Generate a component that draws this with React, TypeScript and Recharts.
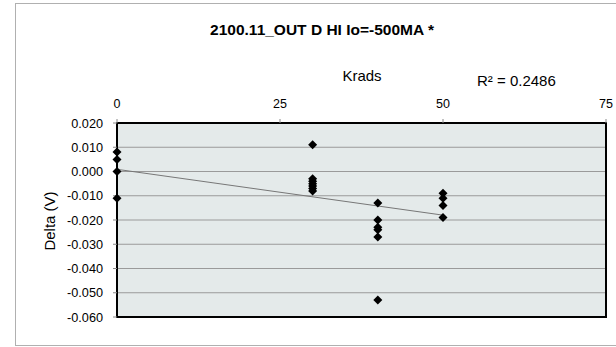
import { ScatterChart, Scatter, XAxis, YAxis, CartesianGrid, ReferenceArea } from 'recharts'

const X_TICKS = [0, 25, 50, 75]
const Y_TICKS = [-0.06, -0.05, -0.04, -0.03, -0.02, -0.01, 0, 0.01, 0.02]

const KRADS_0 = [0.008, 0.005, 0.0, -0.011]
const KRADS_30 = [0.011, -0.003, -0.004, -0.005, -0.006, -0.007, -0.008]
const KRADS_40 = [-0.013, -0.02, -0.023, -0.024, -0.027, -0.053]
const KRADS_50 = [-0.009, -0.011, -0.014, -0.019]

// linear trendline endpoints as drawn (R² = 0.2486)
const TREND = [
  { x: 0, y: 0.0009 },
  { x: 50, y: -0.018 },
]

const points = [
  ...KRADS_0.map((y) => ({ x: 0, y })),
  ...KRADS_30.map((y) => ({ x: 30, y })),
  ...KRADS_40.map((y) => ({ x: 40, y })),
  ...KRADS_50.map((y) => ({ x: 50, y })),
]

const Diamond = (props: any) => {
  const { cx, cy } = props
  const r = 4.5
  return (
    <polygon
      points={`${cx},${cy - r} ${cx + r},${cy} ${cx},${cy + r} ${cx - r},${cy}`}
      fill="#000"
    />
  )
}

const font = '"Liberation Sans", Arial, sans-serif'

export default function App() {
  return (
    <div style={{ position: 'absolute', left: 0, top: 0, width: 616, height: 347, background: '#fff', fontFamily: font }}>
      <div
        style={{
          position: 'absolute',
          left: 15,
          top: 3,
          width: 620,
          height: 341,
          border: '1px solid #b0b0b0',
        }}
      />
      <div style={{ position: 'absolute', left: 0, width: 644, top: 21, textAlign: 'center', fontSize: 15.5, fontWeight: 'bold', lineHeight: 'normal' }}>
        2100.11_OUT D HI Io=-500MA *
      </div>
      <div style={{ position: 'absolute', left: 262, width: 200, top: 67, textAlign: 'center', fontSize: 15 }}>Krads</div>
      <div style={{ position: 'absolute', left: 477, top: 72, fontSize: 15, whiteSpace: 'nowrap' }}>R² = 0.2486</div>
      <div
        style={{
          position: 'absolute',
          left: 49,
          top: 221,
          fontSize: 15,
          whiteSpace: 'nowrap',
          transform: 'translate(-50%, -50%) rotate(-90deg)',
        }}
      >
        Delta (V)
      </div>
      <ScatterChart width={616} height={347} margin={{ top: 93, right: 10, bottom: 30, left: 57 }} style={{ position: 'absolute', left: 0, top: 0 }}>
        <CartesianGrid vertical={false} stroke="#9a9a9a" fill="#e4eaea" fillOpacity={1} />
        <XAxis
          type="number"
          dataKey="x"
          orientation="top"
          height={30}
          domain={[0, 75]}
          ticks={X_TICKS}
          tick={{ fontSize: 12.5, fill: '#000', fontFamily: font }}
          tickSize={4}
          tickMargin={11}
          axisLine={{ stroke: '#000' }}
          tickLine={{ stroke: '#888' }}
        />
        <YAxis
          type="number"
          dataKey="y"
          width={60}
          domain={[-0.06, 0.02]}
          ticks={Y_TICKS}
          tickFormatter={(v: number) => v.toFixed(3)}
          tick={{ fontSize: 12.7, fill: '#000', fontFamily: font }}
          tickSize={4}
          tickMargin={10}
          axisLine={{ stroke: '#000' }}
          tickLine={{ stroke: '#888' }}
        />
        <ReferenceArea x1={0} x2={75} y1={-0.06} y2={0.02} fill="none" fillOpacity={0} stroke="#000" strokeWidth={2} />
        <Scatter data={TREND} line={{ stroke: '#777', strokeWidth: 1 }} shape={() => null} isAnimationActive={false} />
        <Scatter data={points} shape={Diamond} isAnimationActive={false} />
      </ScatterChart>
    </div>
  )
}
